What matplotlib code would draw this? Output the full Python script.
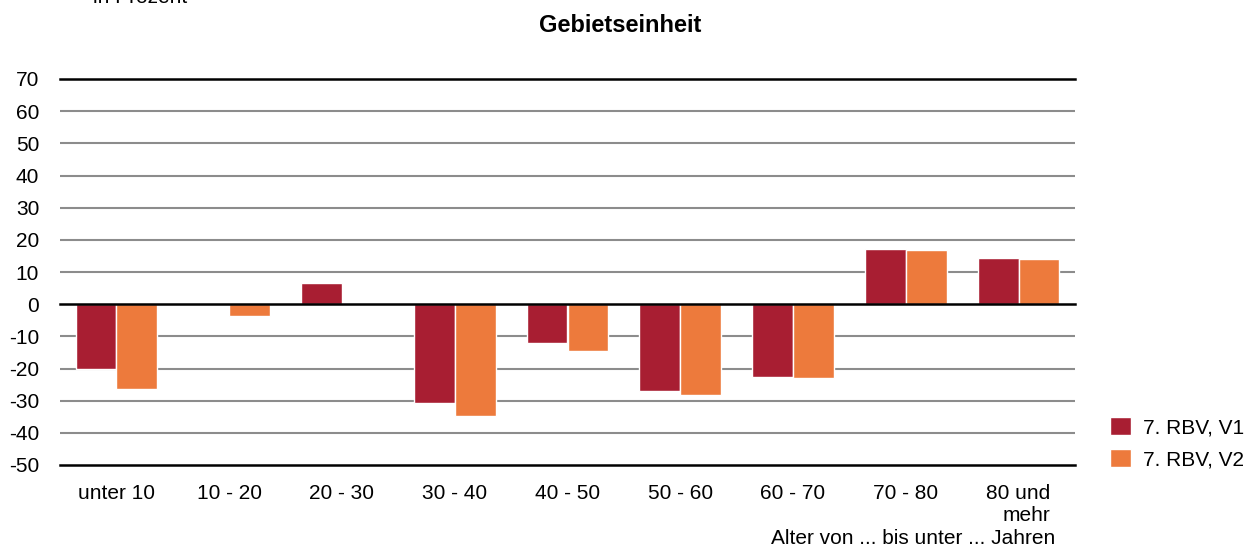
import matplotlib
matplotlib.use("Agg")
import matplotlib.pyplot as plt
import numpy as np

categories = ["unter 10", "10 - 20", "20 - 30", "30 - 40", "40 - 50",
              "50 - 60", "60 - 70", "70 - 80", "80 und\nmehr"]
v1 = [-20.1, 0.0, 6.6, -30.6, -12.0, -27.0, -22.5, 17.1, 14.5]
v2 = [-26.3, -3.6, 0.0, -34.9, -14.6, -28.1, -23.1, 16.8, 14.1]
series_names = ["7. RBV, V1", "7. RBV, V2"]
yticks = list(range(-50, 80, 10))

C1 = "#a81e32"
C2 = "#ed7a3c"

plt.rcParams["font.family"] = ["Liberation Sans", "DejaVu Sans"]
FS = 15

W, H = 1246, 548
fig = plt.figure(figsize=(W / 100, H / 100), dpi=100)
ax = fig.add_axes([60 / W, 1 - 465 / H, (1075 - 60) / W, (465 - 79) / H])

x = np.arange(len(categories))
bw = 0.362
ax.bar(x - bw / 2, v1, bw, color=C1, edgecolor="white", linewidth=1.0,
       label=series_names[0], zorder=3)
ax.bar(x + bw / 2, v2, bw, color=C2, edgecolor="white", linewidth=1.0,
       label=series_names[1], zorder=3)

ax.set_xlim(-0.5, len(categories) - 0.5)
ax.set_ylim(-50, 70)
ax.set_yticks(yticks)
ax.set_yticklabels([str(t) for t in yticks])
for t in yticks:
    if t in (-50, 0, 70):
        continue
    ax.axhline(t, color="#8c8c8c", linewidth=1.5, zorder=1)
for t in (-50, 0, 70):
    ax.axhline(t, color="black", linewidth=1.8, zorder=4, clip_on=False)

for s in ax.spines.values():
    s.set_visible(False)
ax.tick_params(axis="both", length=0, labelsize=FS)
ax.tick_params(axis="y", pad=15)
ax.tick_params(axis="x", pad=14)
ax.set_xticks(x)
ax.set_xticklabels(categories, multialignment="right")

fig.text(1055 / W, 1 - 539 / H, "Alter von ... bis unter ... Jahren",
         ha="right", va="center", fontsize=FS)
fig.text(620 / W, 1 - 25 / H, "Gebietseinheit", ha="center", va="center",
         fontsize=17, fontweight="bold")
fig.text(93 / W, 1 - 3 / H, "in Prozent", ha="left", va="baseline", fontsize=FS)

leg = ax.legend(loc="center left", frameon=False, fontsize=FS,
                handlelength=1.0, handleheight=1.0,
                handletextpad=0.6, labelspacing=0.55, borderpad=0,
                borderaxespad=0)
leg.set_bbox_to_anchor((1110 / W, 1 - 443 / H), transform=fig.transFigure)

fig.savefig("out.png", dpi=100)
